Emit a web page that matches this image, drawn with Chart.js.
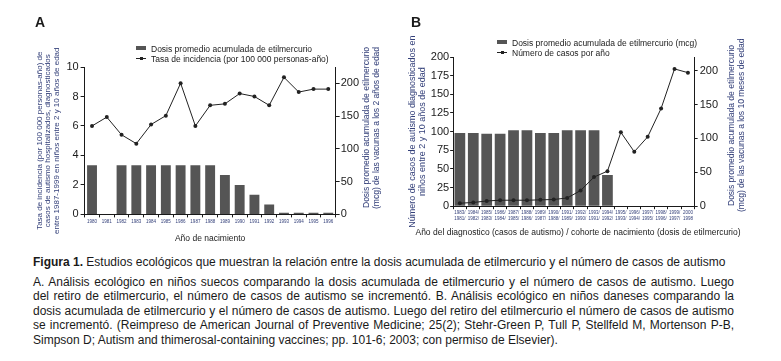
<!DOCTYPE html>
<html>
<head>
<meta charset="utf-8">
<script src="https://cdn.jsdelivr.net/npm/chart.js@4.4.0/dist/chart.umd.min.js"></script>
<style>
  body { margin: 0; background: #fff; font-family: 'Liberation Sans', Arial, sans-serif; color: #1a1a1a; }
  #wrap { position: relative; width: 781px; height: 361px; overflow: hidden; }
  canvas { position: absolute; top: 0; }
  .panel { position: absolute; top: 14px; font-size: 14px; font-weight: bold; line-height: 16px; }
  .legend { position: absolute; font-size: 8.5px; line-height: 10px; }
  .legend div { height: 10px; white-space: nowrap; }
  .sw { display: inline-block; width: 10px; height: 4px; background: #555; vertical-align: 2px; margin-right: 5px; }
  .ln { display: inline-block; width: 10px; height: 1px; background: #222; vertical-align: 3px; margin-right: 5px; position: relative; }
  .ln::after { content: ''; position: absolute; left: 4px; top: -1px; width: 3px; height: 3px; background: #222; }
  .rtitle { position: absolute; writing-mode: vertical-rl; transform: rotate(180deg); text-align: center;
            font-size: 8.5px; line-height: 10px; color: #34407a; white-space: nowrap; }
  .xtitle { position: absolute; text-align: center; font-size: 8.5px; line-height: 10px; white-space: nowrap; }
  #caption { position: absolute; left: 33px; top: 255px; width: 701px; font-size: 12px; line-height: 14.5px; color: #1a1a1a; }
  #caption .head { margin-bottom: 5px; }
  #caption .j { text-align: justify; text-align-last: justify; }
</style>
</head>
<body>
<div id="wrap">
  <canvas id="chartA" width="390" height="248" style="left:0"></canvas>
  <canvas id="chartB" width="391" height="248" style="left:390px"></canvas>

  <div class="panel" style="left:35px">A</div>
  <div class="panel" style="left:411px">B</div>

  <div class="legend" style="left:136px; top:44px">
    <div><span class="sw"></span>Dosis promedio acumulada de etilmercurio</div>
    <div><span class="ln"></span>Tasa de incidencia (por 100 000 personas-año)</div>
  </div>
  <div class="legend" style="left:497px; top:38px">
    <div><span class="sw"></span>Dosis promedio acumulada de etilmercurio (mcg)</div>
    <div><span class="ln"></span>Número de casos por año</div>
  </div>

  <div class="rtitle" style="left:361px; top:45px; height:165px; width:21px">Dosis promedio acumulada de etilmercurio<br>(mcg) de las vacunas a los 2 años de edad</div>
  <div class="rtitle" style="left:726px; top:35px; height:180px; width:21px">Dosis promedio acumulada de etilmercurio<br>(mcg) de las vacunas a los 10 meses de edad</div>
  <div class="xtitle" style="left:398px; width:360px; top:227px">Año del diagnostico (casos de autismo) / cohorte de nacimiento (dosis de etilmercurio)</div>

  <div id="caption">
    <div class="head"><b>Figura 1.</b> Estudios ecológicos que muestran la relación entre la dosis acumulada de etilmercurio y el número de casos de autismo</div>
    <div class="j">A. Análisis ecológico en niños suecos comparando la dosis acumulada de etilmercurio y el número de casos de autismo. Luego</div>
    <div class="j">del retiro de etilmercurio, el número de casos de autismo se incrementó. B. Análisis ecológico en niños daneses comparando la</div>
    <div class="j">dosis acumulada de etilmercurio y el número de casos de autismo. Luego del retiro del etilmercurio el número de casos de autismo</div>
    <div class="j">se incrementó. (Reimpreso de American Journal of Preventive Medicine; 25(2); Stehr-Green P, Tull P, Stellfeld M, Mortenson P-B,</div>
    <div>Simpson D; Autism and thimerosal-containing vaccines; pp. 101-6; 2003; con permiso de Elsevier).</div>
  </div>
</div>

<script>
// Panel A: Sweden, birth years
const yearsA = ['1980', '1981', '1982', '1983', '1984', '1985', '1986', '1987', '1988',
  '1989', '1990', '1991', '1992', '1993', '1994', '1995', '1996'];
const doseA = [75, 0, 75, 75, 75, 75, 75, 75, 75, 60, 45, 30, 15, 2.5, 2.5, 2.5, 2.5];
const incidenceA = [6.0, 6.6, 5.4, 4.8, 6.1, 6.7, 8.9, 6.0, 7.4, 7.5, 8.2, 8.0, 7.4, 9.3, 8.3, 8.5, 8.5];

// Panel B: Denmark, diagnosis year / birth cohort
const yearsB = [['1983/', '1981/'], ['1984/', '1982/'], ['1985/', '1983/'], ['1986/', '1984/'],
  ['1987/', '1985/'], ['1988/', '1986/'], ['1989/', '1987/'], ['1990/', '1988/'], ['1991/', '1989/'],
  ['1992/', '1990/'], ['1993/', '1991/'], ['1994/', '1992/'], ['1995/', '1993/'], ['1996/', '1994/'],
  ['1997/', '1995/'], ['1998/', '1996/'], ['1999/', '1997/'], ['2000', '1998']];
const doseB = [108, 108, 107, 107, 112, 112, 108, 108, 112, 112, 112, 46, 0, 0, 0, 0, 0, 0];
const casesB = [4, 5, 7, 8, 8, 8, 8.5, 9, 11, 21, 39, 47, 99, 73, 93, 131, 184, 179];

const INK = '#1a1a1a';
const TITLE_BLUE = '#34407a';
const BAR_GREY = '#555555';

Chart.defaults.font.family = "'Liberation Sans', Arial, sans-serif";
Chart.defaults.color = INK;

// keep only multiples of 50 on the right axes (max is a bit above 200)
function only50s(axis) {
  axis.ticks = axis.ticks.filter(t => t.value % 50 === 0);
}

function axisGrid(len) {
  return { drawOnChartArea: false, drawTicks: true, tickLength: len, color: INK };
}

function lineDataset(label, data) {
  return {
    type: 'line',
    label: label,
    data: data,
    yAxisID: 'y',
    borderColor: '#222',
    borderWidth: 1,
    pointRadius: 2,
    pointBackgroundColor: '#222',
    pointBorderWidth: 0,
    tension: 0,
    order: 0
  };
}

new Chart(document.getElementById('chartA'), {
  type: 'bar',
  data: {
    labels: yearsA,
    datasets: [
      {
        label: 'Dosis promedio acumulada de etilmercurio',
        data: doseA,
        yAxisID: 'y1',
        backgroundColor: BAR_GREY,
        barPercentage: 0.67,
        categoryPercentage: 1,
        order: 1
      },
      lineDataset('Tasa de incidencia (por 100 000 personas-año)', incidenceA)
    ]
  },
  options: {
    responsive: false,
    animation: false,
    layout: { padding: { top: 67, left: 32, right: 30, bottom: 4 } },
    plugins: { legend: { display: false }, tooltip: { enabled: false } },
    scales: {
      x: {
        grid: axisGrid(3),
        border: { color: INK, width: 1 },
        ticks: { autoSkip: false, maxRotation: 0, padding: 2, font: { size: 4.5 }, color: TITLE_BLUE },
        title: { display: true, text: 'Año de nacimiento', font: { size: 8.5 }, padding: { top: 7, bottom: 0 }, color: INK }
      },
      y: {
        position: 'left',
        min: 0, max: 10,
        grid: axisGrid(4),
        border: { color: INK, width: 1 },
        ticks: { stepSize: 2, padding: 2, font: { size: 11 }, color: INK },
        title: {
          display: true,
          text: ['Tasa de incidencia (por 100 000 personas-año) de',
                 'casos de autismo hospitalizados, diagnosticados',
                 'entre 1987-1999 en niños entre 2 y 10 años de edad'],
          font: { size: 8, lineHeight: 1.1 },
          padding: 3,
          color: TITLE_BLUE
        }
      },
      y1: {
        position: 'right',
        min: 0, max: 225,
        grid: axisGrid(4),
        border: { color: INK, width: 1 },
        ticks: { stepSize: 50, padding: 1, font: { size: 11 }, color: INK },
        afterBuildTicks: only50s
      }
    }
  }
});

new Chart(document.getElementById('chartB'), {
  type: 'bar',
  data: {
    labels: yearsB,
    datasets: [
      {
        label: 'Dosis promedio acumulada de etilmercurio (mcg)',
        data: doseB,
        yAxisID: 'y1',
        backgroundColor: BAR_GREY,
        barPercentage: 0.8,
        categoryPercentage: 1,
        order: 1
      },
      lineDataset('Número de casos por año', casesB)
    ]
  },
  options: {
    responsive: false,
    animation: false,
    layout: { padding: { top: 57, left: 16, right: 61, bottom: 26 } },
    plugins: { legend: { display: false }, tooltip: { enabled: false } },
    scales: {
      x: {
        grid: axisGrid(3),
        border: { color: INK, width: 1 },
        ticks: { autoSkip: false, maxRotation: 0, padding: 1, font: { size: 4.5 }, color: TITLE_BLUE },
        // the long title is set in HTML below the axis: Chart.js would squeeze it to the axis width
        title: { display: false }
      },
      y: {
        position: 'left',
        min: 0, max: 200,
        grid: axisGrid(3),
        border: { color: INK, width: 1 },
        ticks: { stepSize: 25, padding: 1, font: { size: 11 }, color: INK },
        title: {
          display: true,
          text: ['Número de casos de autismo diagnosticados en', 'niños entre 2 y 10 años de edad'],
          font: { size: 9, lineHeight: 1.1 },
          padding: 2,
          color: TITLE_BLUE
        }
      },
      y1: {
        position: 'right',
        min: 0, max: 220,
        grid: axisGrid(3),
        border: { color: INK, width: 1 },
        ticks: { stepSize: 50, padding: 2, font: { size: 11 }, color: INK },
        afterBuildTicks: only50s
      }
    }
  }
});
</script>
</body>
</html>
